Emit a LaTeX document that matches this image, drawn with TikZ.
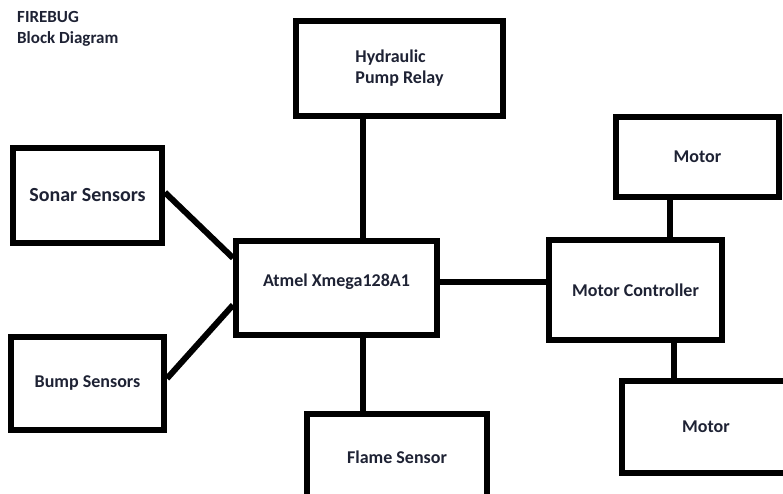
\documentclass[tikz,border=0pt]{standalone}
\usepackage{fontspec}
\setmainfont{Carlito}
\usepackage{tikz}
\usetikzlibrary{positioning,calc}
\definecolor{inkblue}{RGB}{30,34,52}

\begin{document}
\begin{tikzpicture}[x=1pt, y=1pt,
    block/.style={rectangle, draw, line width=6pt, fill=white, align=center, text=inkblue, font=\fontsize{18}{21}\selectfont\bfseries, inner sep=0pt},
    wire/.style={line width=6pt}
]
    \useasboundingbox (0,0) rectangle (783,494);
    \node[anchor=north west, align=left, text=inkblue, font=\fontsize{17}{21}\selectfont\bfseries, inner sep=0pt] (title) at (17,483) {FIREBUG\\Block Diagram};

    \node[block, minimum width=207, minimum height=95, align=left] (hyd) at (399.5,425.5) {Hydraulic\\Pump Relay};
    \node[block, minimum width=149, minimum height=95, font=\fontsize{20}{24}\selectfont\bfseries] (sonar) at (87.5,298.5) {Sonar Sensors};
    \node[block, minimum width=153, minimum height=93] (bump) at (87.5,110.5) {Bump Sensors};
    \node[block, minimum width=201, minimum height=94, text depth=16pt] (atmel) at (336.5,206) {Atmel Xmega128A1};
    \node[block, minimum width=180, minimum height=86] (flame) at (397,37) {Flame Sensor};
    \node[block, minimum width=173, minimum height=100] (mc) at (635.5,204) {Motor Controller};
    \node[block, minimum width=163, minimum height=80] (motA) at (697.5,337) {Motor};
    \node[block, minimum width=168, minimum height=92] (motB) at (706,67) {Motor};

    \draw[wire] ([xshift=26]atmel.north) -- ([xshift=26]atmel.north |- hyd.south);
    \draw[wire] ([xshift=26]atmel.south) -- ([xshift=26]atmel.south |- flame.north);
    \draw[wire] ([yshift=6]atmel.east) -- ([yshift=6]atmel.east -| mc.west);
    \draw[wire] ([yshift=3]sonar.east) -- ([yshift=30]atmel.west);
    \draw[wire] ([yshift=5]bump.east) -- ([yshift=-17]atmel.west);
    \draw[wire] ([xshift=34.5]mc.north) -- ([xshift=34.5]mc.north |- motA.south);
    \draw[wire] ([xshift=38.5]mc.south) -- ([xshift=38.5]mc.south |- motB.north);
\end{tikzpicture}
\end{document}
